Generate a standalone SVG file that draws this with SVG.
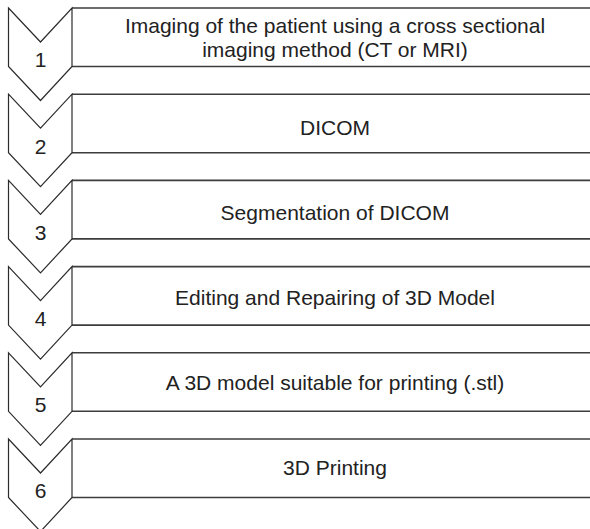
<svg xmlns="http://www.w3.org/2000/svg" width="590" height="529" viewBox="0 0 590 529">
  <style>
    .chev { fill: #ffffff; stroke: #2b2b2b; stroke-width: 1.2; stroke-linejoin: miter; }
    .bar { stroke: #3c3c3c; stroke-width: 1.6; fill: none; }
    .num { font-family: "Liberation Sans", Arial, sans-serif; font-size: 21px; fill: #222222; text-anchor: middle; }
    .label { font-family: "Liberation Sans", Arial, sans-serif; font-size: 21px; fill: #222222; text-anchor: middle; }
  </style>
  <rect width="590" height="529" fill="#ffffff"/>

  <!-- Step 1 -->
  <g id="step1">
    <line class="bar" x1="72" y1="8" x2="590" y2="8"/>
    <line class="bar" x1="72" y1="66.5" x2="590" y2="66.5"/>
    <path class="chev" d="M8.5,8 L40.5,42 L72,8 L72,66.5 L40.5,100.5 L8.5,66.5 Z"/>
    <text class="num" x="40.5" y="67">1</text>
    <text class="label" x="335" y="32.5">Imaging of the patient using a cross sectional</text>
    <text class="label" x="335" y="57">imaging method (CT or MRI)</text>
  </g>

  <!-- Step 2 -->
  <g id="step2">
    <line class="bar" x1="72" y1="94.2" x2="590" y2="94.2"/>
    <line class="bar" x1="72" y1="152.7" x2="590" y2="152.7"/>
    <path class="chev" d="M8.5,94.2 L40.5,128.2 L72,94.2 L72,152.7 L40.5,186.7 L8.5,152.7 Z"/>
    <text class="num" x="40.5" y="153.5">2</text>
    <text class="label" x="335" y="135">DICOM</text>
  </g>

  <!-- Step 3 -->
  <g id="step3">
    <line class="bar" x1="72" y1="180.4" x2="590" y2="180.4"/>
    <line class="bar" x1="72" y1="238.9" x2="590" y2="238.9"/>
    <path class="chev" d="M8.5,180.4 L40.5,214.4 L72,180.4 L72,238.9 L40.5,272.9 L8.5,238.9 Z"/>
    <text class="num" x="40.5" y="239.5">3</text>
    <text class="label" x="335" y="220">Segmentation of DICOM</text>
  </g>

  <!-- Step 4 -->
  <g id="step4">
    <line class="bar" x1="72" y1="266.6" x2="590" y2="266.6"/>
    <line class="bar" x1="72" y1="325.1" x2="590" y2="325.1"/>
    <path class="chev" d="M8.5,266.6 L40.5,300.6 L72,266.6 L72,325.1 L40.5,359.1 L8.5,325.1 Z"/>
    <text class="num" x="40.5" y="325.5">4</text>
    <text class="label" x="335" y="305">Editing and Repairing of 3D Model</text>
  </g>

  <!-- Step 5 -->
  <g id="step5">
    <line class="bar" x1="72" y1="352.8" x2="590" y2="352.8"/>
    <line class="bar" x1="72" y1="411.3" x2="590" y2="411.3"/>
    <path class="chev" d="M8.5,352.8 L40.5,386.8 L72,352.8 L72,411.3 L40.5,445.3 L8.5,411.3 Z"/>
    <text class="num" x="40.5" y="411.5">5</text>
    <text class="label" x="335" y="390">A 3D model suitable for printing (.stl)</text>
  </g>

  <!-- Step 6 -->
  <g id="step6">
    <line class="bar" x1="72" y1="439" x2="590" y2="439"/>
    <line class="bar" x1="72" y1="497.5" x2="590" y2="497.5"/>
    <path class="chev" d="M8.5,439 L40.5,473 L72,439 L72,497.5 L40.5,531.5 L8.5,497.5 Z"/>
    <text class="num" x="40.5" y="497.5">6</text>
    <text class="label" x="335" y="475">3D Printing</text>
  </g>
</svg>
